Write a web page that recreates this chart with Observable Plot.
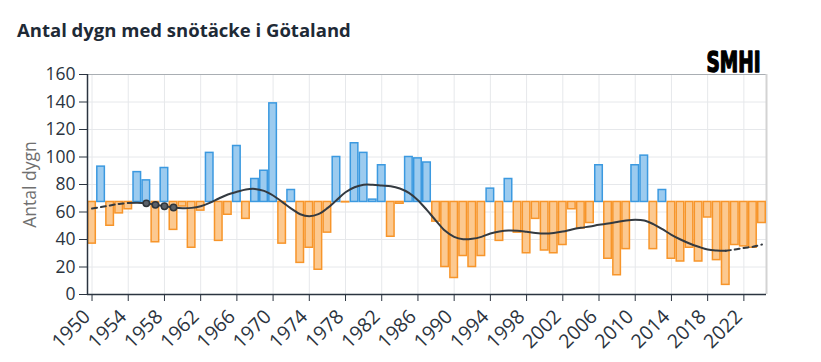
<!DOCTYPE html>
<html>
<head>
<meta charset="utf-8">
<script src="https://cdn.jsdelivr.net/npm/d3@7"></script>
<script src="https://cdn.jsdelivr.net/npm/@observablehq/plot@0.6"></script>
<style>
  body { margin: 0; background: #ffffff; font-family: "Open Sans", sans-serif; }
  #title { height: 25px; padding: 20px 0 0 17px; font-size: 18.5px; line-height: 20px; font-weight: 700; color: #1e2a36; white-space: nowrap; }
  #chart svg { display: block; }
</style>
</head>
<body>
<div id="title">Antal dygn med snötäcke i Götaland</div>
<div id="chart"></div>
<script>
const years = d3.range(1950, 2025);
const snowDays = [
  37, 93, 50, 59, 62, 89, 83, 38, 92, 47,
  64, 34, 61, 103, 39, 58, 108, 55, 84, 90,
  139, 37, 76, 23, 34, 18, 45, 100, 67, 110,
  103, 69, 94, 42, 66, 100, 99, 96, 53, 20,
  12, 28, 20, 28, 77, 39, 84, 45, 30, 55,
  32, 30, 36, 62, 48, 52, 94, 26, 14, 33,
  94, 101, 33, 76, 26, 24, 34, 24, 56, 25,
  7, 36, 35, 34, 52
];
const smoothTrend = [
  62.5, 63.6, 64.8, 65.9, 66.6, 66.8, 66.3, 65.2, 64.2, 63.3,
  62.8, 63.0, 64.2, 66.7, 69.8, 72.7, 74.7, 76.4, 76.8, 75.4,
  72.0, 67.4, 62.5, 58.4, 57.0, 58.4, 62.8, 68.6, 74.4, 78.0,
  79.8, 79.8, 79.3, 78.8, 77.1, 73.9, 68.6, 61.3, 53.6, 46.3,
  41.9, 40.2, 40.5, 41.9, 44.4, 45.8, 46.5, 46.3, 45.6, 44.8,
  44.4, 44.8, 45.8, 47.3, 48.5, 49.5, 50.7, 51.6, 52.8, 53.8,
  54.3, 53.8, 51.2, 47.5, 43.4, 40.0, 37.1, 34.7, 32.7, 32.0,
  31.8, 32.7, 33.9, 34.7, 36.4
];
const baseline = 67.3;
const solidFrom = 1954;
const solidTo = 2020;
const highlightYears = [1956, 1957, 1958, 1959];
const xTicks = d3.range(1950, 2023, 4);
const yTicks = d3.range(0, 161, 20);

const bars = years.map((year, i) => ({year, value: snowDays[i]}));
const trend = years.map((year, i) => ({year, value: smoothTrend[i]}));
const trendStart = trend.filter(d => d.year <= solidFrom);
const trendMid = trend.filter(d => d.year >= solidFrom && d.year <= solidTo);
const trendEnd = trend.filter(d => d.year >= solidTo);
const highlights = trend.filter(d => highlightYears.includes(d.year));

const barOpts = {
  x1: d => d.year - 0.5, x2: d => d.year + 0.5,
  y1: () => baseline, y2: "value",
  strokeWidth: 1.5, insetLeft: 0.75, insetRight: 0.75
};

const chart = Plot.plot({
  width: 821,
  height: 317,
  marginTop: 29,
  marginBottom: 68,
  marginLeft: 87,
  marginRight: 55,
  style: {fontFamily: "'Open Sans', sans-serif", fontSize: "15px", color: "#2b3440", background: "#ffffff", overflow: "visible"},
  x: {domain: [1949.5, 2024.5]},
  y: {domain: [0, 160]},
  marks: [
    Plot.gridY(yTicks, {stroke: "#e6e8eb", strokeOpacity: 1}),
    Plot.gridX(xTicks, {stroke: "#e6e8eb", strokeOpacity: 1}),
    Plot.ruleY([160], {stroke: "#a9aeb3", strokeWidth: 1.2}),
    Plot.ruleX([2024.5], {stroke: "#d3d3d3", strokeWidth: 2}),
    Plot.rect(bars.filter(d => d.value < baseline), {...barOpts, fill: "#fcc990", stroke: "#f7952a"}),
    Plot.rect(bars.filter(d => d.value >= baseline), {...barOpts, fill: "#9ccbef", stroke: "#3b99e0"}),
    Plot.line(trendStart, {x: "year", y: "value", curve: "catmull-rom", stroke: "#343a40", strokeWidth: 2, strokeDasharray: "5,4"}),
    Plot.line(trendMid, {x: "year", y: "value", curve: "catmull-rom", stroke: "#343a40", strokeWidth: 2}),
    Plot.line(trendEnd, {x: "year", y: "value", curve: "catmull-rom", stroke: "#343a40", strokeWidth: 2, strokeDasharray: "5,4"}),
    Plot.dot(highlights, {x: "year", y: "value", r: 3.2, fill: "#5b6169", stroke: "#2f353b", strokeWidth: 1.5}),
    Plot.axisY({ticks: yTicks, tickSize: 8, tickPadding: 4, label: null, fontSize: 17.5}),
    Plot.axisX({ticks: xTicks, tickFormat: () => "", tickSize: 7, label: null}),
    Plot.axisX({ticks: xTicks, tickFormat: "d", tickSize: 0, tickPadding: 19, dx: -5, tickRotate: -45, label: null, fontSize: 19.5}),
    Plot.ruleX([1949.5], {stroke: "#2b3440", strokeWidth: 1.5}),
    Plot.ruleY([0], {stroke: "#2b3440", strokeWidth: 1.5}),
    Plot.text(["Antal dygn"], {frameAnchor: "left", textAnchor: "middle", dx: -57, rotate: -90, fontSize: 17.5, fill: "#707070"}),
    Plot.text(["SMHI"], {frameAnchor: "top-right", dx: -6, dy: -3, textAnchor: "end", lineAnchor: "bottom",
      fontSize: 29, fontWeight: 900, fontFamily: "'DejaVu Sans Condensed', 'DejaVu Sans', sans-serif",
      fill: "#000000", stroke: "#000000", strokeWidth: 1.4})
  ]
});
document.getElementById("chart").appendChild(chart);
const svg = d3.select(chart);
svg.selectAll("text").filter(function () { return this.textContent === "SMHI"; })
  .attr("textLength", 54).attr("lengthAdjust", "spacingAndGlyphs");
</script>
</body>
</html>
